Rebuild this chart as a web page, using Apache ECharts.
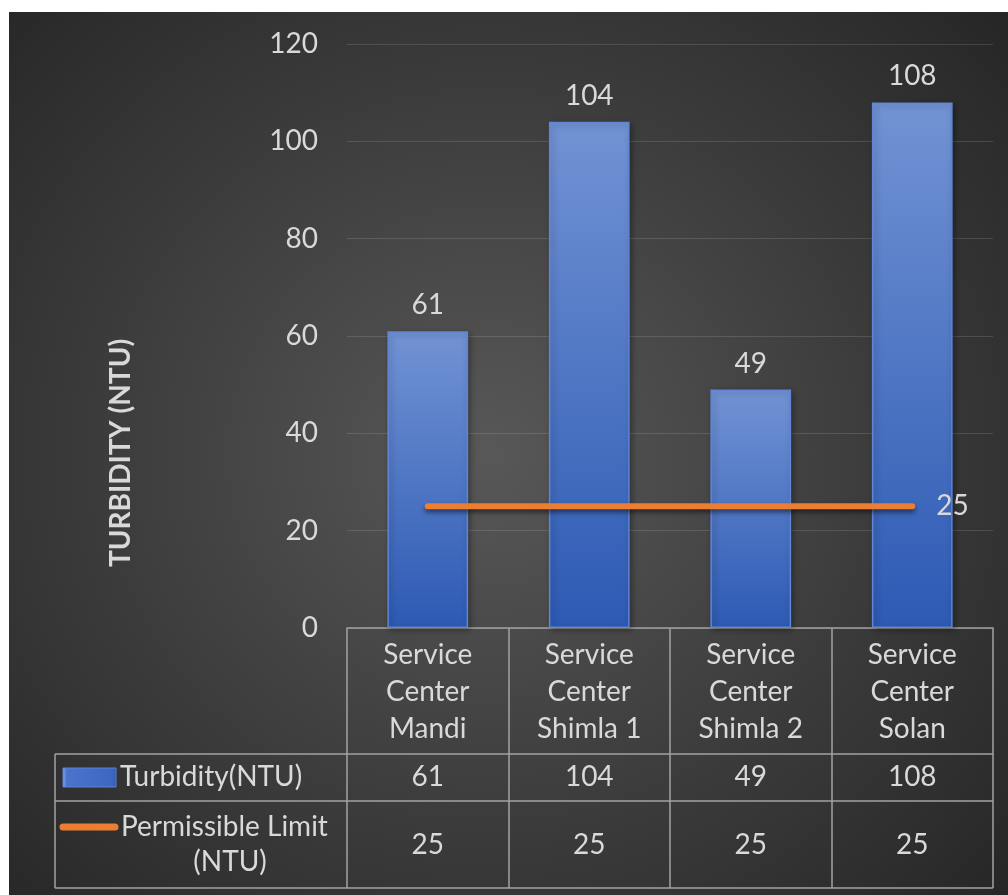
<!DOCTYPE html>
<html>
<head>
<meta charset="utf-8">
<script src="https://cdn.jsdelivr.net/npm/echarts@6/dist/echarts.min.js"></script>
<style>
  html, body { margin: 0; padding: 0; background: #ffffff; }
  #chart {
    position: absolute; left: 9px; top: 12px; width: 999px; height: 883px;
    background: radial-gradient(ellipse 70% 75% at 48% 50%, #585858 0%, #3c3c3c 55%, #262626 100%);
  }
</style>
</head>
<body>
<div id="chart"></div>
<script>
// Turbidity measured at each service center, with the permissible limit
const categories = ['Service\nCenter\nMandi', 'Service\nCenter\nShimla 1', 'Service\nCenter\nShimla 2', 'Service\nCenter\nSolan'];
const turbidity = [61, 104, 49, 108];
const permissibleLimit = [25, 25, 25, 25];
const yTicks = [0, 20, 40, 60, 80, 100, 120];
const seriesNames = ['Turbidity(NTU)', 'Permissible Limit (NTU)'];

const FONT = 'Lato, "Open Sans", sans-serif';
const TEXT = '#d9d9d9';
const RULE = '#a3a3a3';

const chart = echarts.init(document.getElementById('chart'), null, { renderer: 'canvas' });

const barFill = {
  type: 'linear', x: 0, y: 0, x2: 0, y2: 1,
  colorStops: [{ offset: 0, color: '#7293d4' }, { offset: 1, color: '#2d5ab4' }]
};

const GRID = { left: 338, right: 15, top: 32, bottom: 267 };

chart.setOption({
  backgroundColor: 'transparent',
  animation: false,
  textStyle: { fontFamily: FONT },
  grid: GRID,
  xAxis: {
    type: 'category',
    data: categories,
    boundaryGap: true,
    axisLine: { show: true, lineStyle: { color: RULE, width: 1.5 } },
    axisTick: { show: true, interval: 0, length: 260, lineStyle: { color: RULE, width: 1.5 } },
    axisLabel: {
      interval: 0, margin: 8, color: TEXT, fontSize: 28, lineHeight: 37,
      fontFamily: FONT, align: 'center'
    },
    splitLine: { show: false }
  },
  yAxis: {
    type: 'value',
    min: yTicks[0], max: yTicks[yTicks.length - 1], interval: yTicks[1] - yTicks[0],
    axisLine: { show: false },
    axisTick: { show: false },
    axisLabel: { color: TEXT, fontSize: 28, margin: 29, fontFamily: FONT },
    splitLine: { show: true, lineStyle: { color: 'rgba(255,255,255,0.13)', width: 1.2 } }
  },
  series: [
    {
      name: seriesNames[0],
      type: 'bar',
      data: turbidity,
      barWidth: '50%',
      itemStyle: {
        color: barFill,
        borderColor: '#5f86d8', borderWidth: 1.5,
        shadowColor: 'rgba(0,0,0,0.35)', shadowBlur: 6, shadowOffsetX: 2, shadowOffsetY: 2
      },
      label: {
        show: true, position: 'top', distance: 12,
        color: TEXT, fontSize: 28, fontFamily: FONT
      },
      z: 2
    },
    {
      name: seriesNames[1],
      type: 'line',
      data: permissibleLimit,
      showSymbol: false,
      symbol: 'none',
      lineStyle: {
        color: '#ed7d31', width: 6, cap: 'round',
        shadowColor: 'rgba(0,0,0,0.55)', shadowBlur: 5, shadowOffsetY: 3
      },
      endLabel: {
        show: true, distance: 24,
        formatter: p => String(p.value),
        color: TEXT, fontSize: 28, fontFamily: FONT
      },
      z: 3
    }
  ]
});

// Data table beneath the axis: rows, legend keys and values
const W = 999;
const tableLeft = 46;
const tableRight = W - GRID.right;
const rowTops = [742, 789, 876];
const rowCenters = [765, 833];

const line = (x1, y1, x2, y2) => ({
  type: 'line', shape: { x1, y1, x2, y2 }, silent: true,
  style: { stroke: RULE, lineWidth: 1.5 }
});

const graphics = [];
rowTops.forEach(y => graphics.push(line(tableLeft, y, tableRight, y)));
graphics.push(line(tableLeft, rowTops[0], tableLeft, rowTops[2]));

// legend keys
graphics.push({
  type: 'rect', shape: { x: 54, y: 756, width: 53, height: 19 },
  style: {
    fill: { type: 'linear', x: 0, y: 0, x2: 1, y2: 0, colorStops: [
      { offset: 0, color: '#86a8ef' }, { offset: 0.08, color: '#4a74cc' },
      { offset: 0.92, color: '#3d68c2' }, { offset: 1, color: '#2c55a8' }] },
    stroke: '#5a80d2', lineWidth: 1
  }
});
graphics.push({
  type: 'text', style: {
    x: 111, y: rowCenters[0], text: seriesNames[0], fill: TEXT,
    font: '28px ' + FONT, textAlign: 'left', textVerticalAlign: 'middle'
  }
});
graphics.push({
  type: 'line', shape: { x1: 54, y1: 815, x2: 106, y2: 815 },
  style: { stroke: '#ed7d31', lineWidth: 7, lineCap: 'round' }
});
graphics.push({
  type: 'text', style: {
    x: 112, y: 815, text: 'Permissible Limit', fill: TEXT,
    font: '28px ' + FONT, textAlign: 'left', textVerticalAlign: 'middle'
  }
});
graphics.push({
  type: 'text', style: {
    x: 221, y: 850, text: '(NTU)', fill: TEXT,
    font: '28px ' + FONT, textAlign: 'center', textVerticalAlign: 'middle'
  }
});

// value cells, placed on the category axis
[turbidity, permissibleLimit].forEach((vals, r) => {
  vals.forEach((v, i) => {
    const x = chart.convertToPixel({ xAxisIndex: 0 }, i);
    graphics.push({
      type: 'text', style: {
        x, y: rowCenters[r], text: String(v), fill: TEXT,
        font: '28px ' + FONT, textAlign: 'center', textVerticalAlign: 'middle'
      }
    });
  });
});

// y-axis title
graphics.push({
  type: 'text', x: 112, y: 441, rotation: Math.PI / 2,
  style: {
    x: 0, y: 0, text: 'TURBIDITY (NTU)', fill: TEXT,
    font: 'bold 28px ' + FONT, textAlign: 'center', textVerticalAlign: 'middle'
  }
});

chart.setOption({ graphic: graphics });
</script>
</body>
</html>
